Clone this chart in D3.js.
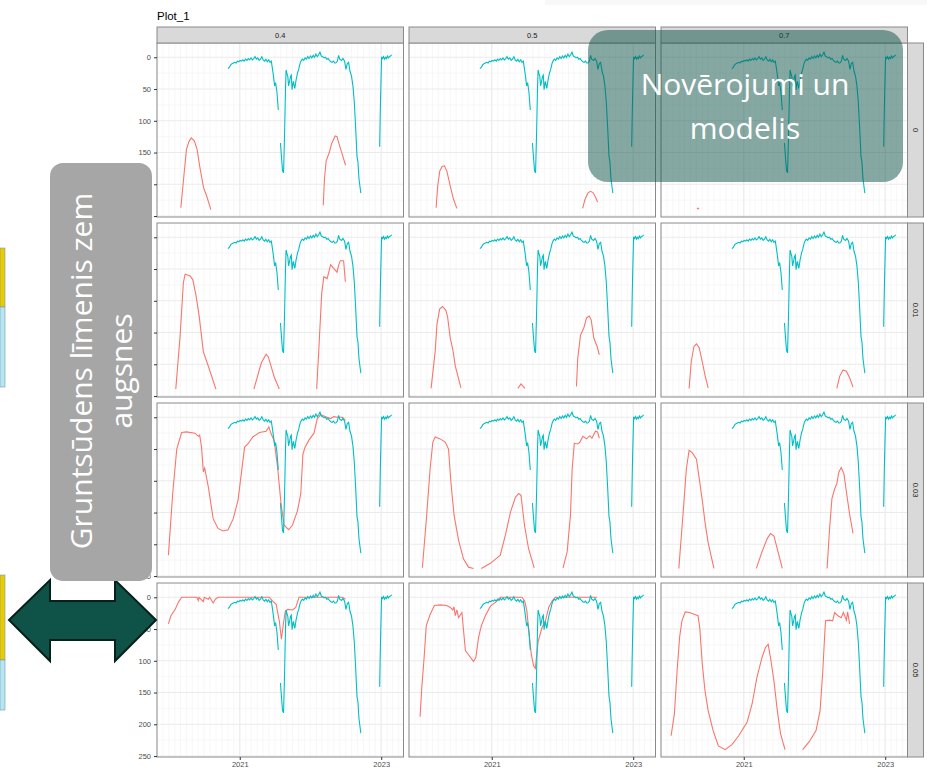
<!DOCTYPE html>
<html>
<head>
<meta charset="utf-8">
<script src="https://cdn.jsdelivr.net/npm/d3@7"></script>
<style>
  body { margin: 0; background: #ffffff; }
  svg { display: block; }
</style>
</head>
<body>
<div id="plot"></div>
<script>
// facet labels
var colLabels = ["0.4", "0.5", "0.7"]
var rowLabels = ["0", "0.01", "0.03", "0.05"]
// axis ticks
var yTicks = [0, 50, 100, 150, 200, 250]
var yMinor = [25, 75, 125, 175, 225]
var xTicks = ["2021-01-01", "2023-01-01"]
var xTickLabels = ["2021", "2023"]

// observed groundwater level (cm below surface), same in every panel
var observed = [
  ["2020-11-01",18],["2020-11-08",16],["2020-11-15",12],["2020-11-22",10],["2020-11-29",9],["2020-12-06",8],
  ["2020-12-13",9],["2020-12-20",6],["2020-12-27",7],["2021-01-03",5],["2021-01-10",6],["2021-01-17",4],
  ["2021-01-24",6],["2021-01-31",3],["2021-02-07",5],["2021-02-14",2],["2021-02-21",4],["2021-02-28",1],
  ["2021-03-07",4],["2021-03-14",2],["2021-03-21",-1],["2021-03-28",3],["2021-04-04",1],["2021-04-11",5],
  ["2021-04-18",3],["2021-04-25",-1],["2021-05-02",4],["2021-05-09",6],["2021-05-16",3],["2021-05-23",7],
  ["2021-05-30",4],["2021-06-06",8],["2021-06-13",6],["2021-06-22",25],["2021-06-30",45],["2021-07-05",40],
  ["2021-07-12",55],["2021-07-19",83],["2021-07-25",null],
  ["2021-07-30",135],["2021-08-05",160],["2021-08-10",179],["2021-08-15",182],["2021-08-20",124],["2021-08-25",51],
  ["2021-08-28",20],["2021-09-02",26],["2021-09-06",30],["2021-09-10",45],["2021-09-15",38],["2021-09-20",30],
  ["2021-09-24",28],["2021-09-28",51],["2021-10-02",42],["2021-10-05",38],["2021-10-09",45],["2021-10-12",49],
  ["2021-10-19",35],["2021-10-26",25],["2021-11-02",18],["2021-11-08",10],["2021-11-13",6],["2021-11-20",3],
  ["2021-11-27",5],["2021-12-04",1],["2021-12-11",3],["2021-12-18",-1],["2021-12-25",2],["2022-01-01",-2],
  ["2022-01-08",1],["2022-01-15",-3],["2022-01-22",0],["2022-01-29",-5],["2022-02-05",-1],["2022-02-12",-4],
  ["2022-02-19",-8],["2022-02-26",-2],["2022-03-05",-1],["2022-03-12",1],["2022-03-19",0],["2022-03-26",3],
  ["2022-04-02",2],["2022-04-09",5],["2022-04-16",7],["2022-04-23",8],["2022-04-30",6],["2022-05-06",9],
  ["2022-05-12",9],["2022-05-20",6],["2022-05-26",-3],["2022-06-01",3],["2022-06-10",5],["2022-06-18",2],
  ["2022-06-26",6],["2022-07-03",19],["2022-07-10",10],["2022-07-17",8],["2022-07-24",22],["2022-08-01",30],
  ["2022-08-08",45],["2022-08-15",70],["2022-08-22",110],["2022-08-29",156],["2022-09-03",165],["2022-09-08",190],
  ["2022-09-14",205],["2022-09-18",214],["2022-10-01",null],
  ["2022-12-24",141],["2022-12-27",90],["2022-12-29",60],["2023-01-03",-1],["2023-01-08",2],["2023-01-13",-1],
  ["2023-01-18",3],["2023-01-23",0],["2023-01-28",2],["2023-02-02",-2],["2023-02-07",1],["2023-02-12",-1],
  ["2023-02-18",-2],["2023-02-24",-4]
]

// modelled level, one array per facet (column _ row)
var model_04_0 = [
  ["2020-03-03",237],["2020-03-17",192],["2020-04-01",145],["2020-04-15",132],["2020-04-26",127],["2020-05-12",132],
  ["2020-05-26",145],["2020-06-08",171],["2020-06-28",205],["2020-07-16",220],["2020-08-05",240],["2020-08-10",null],
  ["2022-03-08",233],["2022-03-14",192],["2022-03-23",163],["2022-04-08",150],["2022-04-20",136],["2022-05-08",124],
  ["2022-05-18",125],["2022-05-28",136],["2022-06-14",153],["2022-07-01",170]
]
var model_05_0 = [
  ["2020-03-20",237],["2020-03-28",203],["2020-04-08",179],["2020-04-20",172],["2020-05-02",171],["2020-05-15",180],
  ["2020-06-01",203],["2020-06-18",224],["2020-07-05",238],["2020-07-10",null],
  ["2022-04-15",238],["2022-04-27",224],["2022-05-12",214],["2022-05-25",211],["2022-06-08",213],["2022-06-20",220],
  ["2022-07-01",228]
]
var model_07_0 = [
  ["2020-05-05",239],["2020-05-10",237.5],["2020-05-15",239]
]
var model_04_001 = [
  ["2020-02-06",239],["2020-02-28",156],["2020-03-16",72],["2020-03-25",58],["2020-04-20",61],["2020-05-04",67],
  ["2020-05-20",91],["2020-06-06",125],["2020-06-27",180],["2020-07-23",203],["2020-08-31",239],["2020-09-10",null],
  ["2021-03-15",239],["2021-04-22",198],["2021-05-17",184],["2021-05-28",188],["2021-06-28",220],["2021-07-24",239],
  ["2021-08-01",null],
  ["2022-02-02",239],["2022-02-14",171],["2022-02-28",88],["2022-03-11",62],["2022-03-28",65],["2022-04-15",43],
  ["2022-05-01",49],["2022-05-18",55],["2022-05-27",43],["2022-06-04",37],["2022-06-21",37],["2022-06-30",70]
]
var model_05_001 = [
  ["2020-02-23",238],["2020-03-15",180],["2020-03-24",138],["2020-04-07",113],["2020-04-22",109],["2020-05-09",115],
  ["2020-05-18",125],["2020-06-01",159],["2020-06-14",177],["2020-06-27",203],["2020-07-26",237],["2020-08-01",null],
  ["2021-05-16",238],["2021-06-01",231],["2021-06-21",238],["2021-06-25",null],
  ["2022-03-14",235],["2022-03-21",190],["2022-04-04",154],["2022-04-21",143],["2022-05-05",127],["2022-05-19",124],
  ["2022-05-29",130],["2022-06-12",159],["2022-06-29",172],["2022-07-10",185]
]
var model_07_001 = [
  ["2020-03-25",238],["2020-04-05",196],["2020-04-19",172],["2020-05-02",168],["2020-05-16",174],["2020-06-01",196],
  ["2020-06-15",217],["2020-07-01",237],["2020-07-05",null],
  ["2022-04-26",238],["2022-05-11",219],["2022-05-28",209],["2022-06-15",211],["2022-07-05",224],["2022-07-19",236]
]
var model_04_003 = [
  ["2019-12-30",217],["2020-01-21",120],["2020-02-11",50],["2020-03-07",24],["2020-04-01",23],["2020-05-15",25],
  ["2020-06-01",30],["2020-06-08",28],["2020-06-18",47],["2020-06-27",86],["2020-07-04",80],["2020-07-23",110],
  ["2020-08-17",160],["2020-09-11",175],["2020-10-07",179],["2020-11-02",177],["2020-11-28",160],["2020-12-23",131],
  ["2021-01-26",47],["2021-02-12",42],["2021-03-09",31],["2021-04-13",24],["2021-05-17",22],["2021-05-31",15],
  ["2021-06-12",26],["2021-06-28",37],["2021-07-15",78],["2021-08-02",136],["2021-08-18",170],["2021-09-10",177],
  ["2021-09-30",170],["2021-10-26",147],["2021-11-12",120],["2021-11-23",58],["2021-12-03",48],["2021-12-24",36],
  ["2022-01-19",25],["2022-02-05",2],["2022-02-23",-4],["2022-03-20",-1],["2022-04-15",2],["2022-05-01",-1],
  ["2022-05-20",0],["2022-06-15",0],["2022-06-30",5]
]
var model_05_003 = [
  ["2020-01-09",237],["2020-01-31",155],["2020-02-18",81],["2020-03-03",39],["2020-03-15",31],["2020-04-10",34],
  ["2020-05-06",39],["2020-05-23",50],["2020-06-04",102],["2020-06-21",155],["2020-07-14",194],["2020-08-08",223],
  ["2020-09-03",236],["2020-09-29",238],["2020-10-10",null],
  ["2020-11-08",238],["2020-12-25",230],["2021-02-14",217],["2021-03-12",186],["2021-04-08",149],["2021-05-03",126],
  ["2021-05-20",120],["2021-06-01",123],["2021-06-19",170],["2021-07-10",207],["2021-08-08",237],["2021-08-15",null],
  ["2022-01-04",237],["2022-01-25",212],["2022-02-11",155],["2022-02-20",81],["2022-03-03",41],["2022-03-21",42],
  ["2022-04-01",39],["2022-04-16",30],["2022-05-05",34],["2022-05-22",29],["2022-06-02",33],["2022-06-20",22],
  ["2022-07-01",23],["2022-07-10",33]
]
var model_07_003 = [
  ["2020-02-01",238],["2020-02-22",155],["2020-03-11",81],["2020-03-25",52],["2020-04-11",56],["2020-05-02",66],
  ["2020-05-19",102],["2020-06-02",133],["2020-06-15",165],["2020-07-01",197],["2020-07-31",238],["2020-08-05",null],
  ["2021-03-07",238],["2021-04-05",212],["2021-05-02",191],["2021-05-19",183],["2021-06-06",187],["2021-06-27",212],
  ["2021-07-19",238],["2021-07-25",null],
  ["2022-03-07",238],["2022-03-20",175],["2022-04-01",128],["2022-04-15",113],["2022-04-26",105],["2022-05-07",86],
  ["2022-05-19",79],["2022-06-02",89],["2022-06-15",118],["2022-07-01",152],["2022-07-19",183]
]
var model_04_005 = [
  ["2019-12-30",42],["2020-01-12",29],["2020-02-03",19],["2020-02-19",8],["2020-03-07",0],["2020-05-25",0],
  ["2020-06-01",5],["2020-06-05",0],["2020-06-27",7],["2020-07-02",0],["2020-07-23",3],["2020-07-30",0],
  ["2020-08-17",9],["2020-08-28",3],["2020-09-11",0],["2021-06-03",0],["2021-06-20",6],["2021-07-08",11],
  ["2021-07-24",37],["2021-08-04",66],["2021-08-14",42],["2021-08-24",22],["2021-09-05",19],["2021-09-30",20],
  ["2021-10-17",16],["2021-11-03",0],["2022-06-15",0],["2022-06-30",3]
]
var model_05_005 = [
  ["2019-12-28",188],["2020-01-06",142],["2020-01-18",95],["2020-01-29",45],["2020-02-18",27],["2020-03-11",13],
  ["2020-04-10",12],["2020-05-14",13],["2020-06-01",16],["2020-06-14",20],["2020-06-20",15],["2020-06-27",29],
  ["2020-07-05",20],["2020-07-14",32],["2020-07-31",24],["2020-08-18",84],["2020-09-07",92],["2020-09-29",101],
  ["2020-10-11",95],["2020-10-25",63],["2020-11-08",45],["2020-11-29",29],["2020-12-25",14],["2021-01-20",8],
  ["2021-02-14",0],["2021-06-06",0],["2021-06-20",6],["2021-07-01",21],["2021-07-13",58],["2021-07-24",90],
  ["2021-08-05",108],["2021-08-14",112],["2021-08-28",70],["2021-09-17",48],["2021-10-05",37],["2021-10-22",16],
  ["2021-11-08",6],["2021-11-25",0],["2022-06-28",0]
]
var model_07_005 = [
  ["2019-12-23",218],["2020-01-09",184],["2020-01-23",116],["2020-02-05",63],["2020-02-17",37],["2020-03-05",23],
  ["2020-03-28",24],["2020-04-23",27],["2020-05-10",29],["2020-05-19",48],["2020-06-01",105],["2020-06-15",147],
  ["2020-07-01",178],["2020-07-27",210],["2020-08-23",234],["2020-09-27",240],["2020-11-01",232],["2020-12-06",218],
  ["2021-01-18",197],["2021-02-13",168],["2021-03-10",126],["2021-04-05",95],["2021-04-23",79],["2021-05-07",74],
  ["2021-05-19",95],["2021-06-06",132],["2021-06-23",178],["2021-07-10",215],["2021-08-02",240],["2021-08-10",null],
  ["2021-11-01",240],["2021-12-06",227],["2022-01-09",210],["2022-01-30",178],["2022-02-13",116],["2022-02-22",63],
  ["2022-02-27",37],["2022-03-20",36],["2022-04-05",37],["2022-04-15",24],["2022-05-02",29],["2022-05-19",32],
  ["2022-05-30",24],["2022-06-15",36],["2022-06-21",23],["2022-07-01",42]
]

// facet grid: rows x columns
var models = [
  [model_04_0, model_05_0, model_07_0],
  [model_04_001, model_05_001, model_07_001],
  [model_04_003, model_05_003, model_07_003],
  [model_04_005, model_05_005, model_07_005]
]

var parse = d3.timeParse("%Y-%m-%d")

// layout
var W = 927, H = 770
var colLeft = [157, 409, 661]
var panelW = 246.5
var rowTop = [43, 223, 403, 583]
var panelH = 174
var stripH = 16
var obsColor = "#00BFC4"
var modColor = "#F8766D"

var svg = d3.select("#plot").append("svg").attr("width", W).attr("height", H)

// faint remnant at top edge
svg.append("rect").attr("x", 545).attr("y", 0).attr("width", 382).attr("height", 5).attr("fill", "#f8f8f8")

// title
svg.append("text")
  .attr("x", 157).attr("y", 20)
  .text("Plot_1")
  .attr("font-size", "11.5px")
  .attr("font-family", "'Liberation Sans', Arial, sans-serif")
  .attr("fill", "#000")

var x = d3.scaleTime().domain([parse("2019-11-01"), parse("2023-04-26")])
var months = d3.timeMonth.range(parse("2019-11-01"), parse("2023-04-26"))

var defs = svg.append("defs")

rowTop.forEach(function(top, r) {
  colLeft.forEach(function(left, c) {
    var xs = x.copy().range([left, left + panelW])
    var ys = d3.scaleLinear().domain([-22.5, 251.5]).range([top, top + panelH])
    var g = svg.append("g")
    var clipId = "clip" + r + "_" + c
    defs.append("clipPath").attr("id", clipId)
      .append("rect").attr("x", left).attr("y", top).attr("width", panelW).attr("height", panelH)

    g.append("rect").attr("x", left).attr("y", top).attr("width", panelW).attr("height", panelH).attr("fill", "#fff")

    // grid
    g.selectAll(".vmin").data(months).enter().append("line")
      .attr("x1", function(d) { return xs(d) }).attr("x2", function(d) { return xs(d) })
      .attr("y1", top).attr("y2", top + panelH)
      .attr("stroke", "#f1f1f1").attr("stroke-width", 0.6)
    g.selectAll(".hmin").data(yMinor).enter().append("line")
      .attr("x1", left).attr("x2", left + panelW)
      .attr("y1", function(d) { return ys(d) }).attr("y2", function(d) { return ys(d) })
      .attr("stroke", "#f3f3f3").attr("stroke-width", 0.6)
    g.selectAll(".hmaj").data(yTicks).enter().append("line")
      .attr("x1", left).attr("x2", left + panelW)
      .attr("y1", function(d) { return ys(d) }).attr("y2", function(d) { return ys(d) })
      .attr("stroke", "#ebebeb").attr("stroke-width", 1.1)
    g.selectAll(".vmaj").data(xTicks).enter().append("line")
      .attr("x1", function(d) { return xs(parse(d)) }).attr("x2", function(d) { return xs(parse(d)) })
      .attr("y1", top).attr("y2", top + panelH)
      .attr("stroke", "#ebebeb").attr("stroke-width", 1.1)

    var line = d3.line()
      .defined(function(d) { return d[1] != null })
      .x(function(d) { return xs(parse(d[0])) })
      .y(function(d) { return ys(d[1]) })

    var lines = g.append("g").attr("clip-path", "url(#" + clipId + ")")
    lines.append("path").datum(models[r][c]).attr("d", line)
      .attr("fill", "none").attr("stroke", modColor).attr("stroke-width", 1.1)
    lines.append("path").datum(observed).attr("d", line)
      .attr("fill", "none").attr("stroke", obsColor).attr("stroke-width", 1.1)

    g.append("rect").attr("x", left).attr("y", top).attr("width", panelW).attr("height", panelH)
      .attr("fill", "none").attr("stroke", "#8a8a8a").attr("stroke-width", 1)

    // y axis on first column
    if (c == 0) {
      var ya = g.append("g").attr("transform", "translate(" + left + ",0)")
        .call(d3.axisLeft(ys).tickValues(yTicks).tickSize(3).tickPadding(3))
      ya.select(".domain").remove()
      ya.selectAll("line").attr("stroke", "#333")
      ya.selectAll("text").attr("fill", "#4d4d4d").attr("font-size", "7.5px")
        .attr("font-family", "'Liberation Sans', Arial, sans-serif")
    }
    // x axis on bottom row
    if (r == rowTop.length - 1) {
      var xa = g.append("g").attr("transform", "translate(0," + (top + panelH) + ")")
        .call(d3.axisBottom(xs).tickValues(xTicks.map(parse))
          .tickFormat(function(d, i) { return xTickLabels[i] }).tickSize(3).tickPadding(2))
      xa.select(".domain").remove()
      xa.selectAll("line").attr("stroke", "#333")
      xa.selectAll("text").attr("fill", "#4d4d4d").attr("font-size", "7.5px")
        .attr("font-family", "'Liberation Sans', Arial, sans-serif")
    }
  })
})

// top strips
colLabels.forEach(function(lab, c) {
  svg.append("rect").attr("x", colLeft[c]).attr("y", rowTop[0] - stripH)
    .attr("width", panelW).attr("height", stripH)
    .attr("fill", "#d9d9d9").attr("stroke", "#8a8a8a").attr("stroke-width", 1)
  svg.append("text").attr("x", colLeft[c] + panelW / 2).attr("y", rowTop[0] - stripH / 2)
    .attr("text-anchor", "middle").attr("dominant-baseline", "central")
    .text(lab).attr("font-size", "7.5px").attr("fill", "#1a1a1a")
    .attr("font-family", "'Liberation Sans', Arial, sans-serif")
})

// right strips
var stripX = colLeft[2] + panelW
rowLabels.forEach(function(lab, r) {
  svg.append("rect").attr("x", stripX).attr("y", rowTop[r])
    .attr("width", stripH).attr("height", panelH)
    .attr("fill", "#d9d9d9").attr("stroke", "#8a8a8a").attr("stroke-width", 1)
  svg.append("text")
    .attr("transform", "translate(" + (stripX + stripH / 2) + "," + (rowTop[r] + panelH / 2) + ") rotate(90)")
    .attr("text-anchor", "middle").attr("dominant-baseline", "central")
    .text(lab).attr("font-size", "7.5px").attr("fill", "#1a1a1a")
    .attr("font-family", "'Liberation Sans', Arial, sans-serif")
})

// left edge slide remnants
var edge = [[248, 307, "#e8cc00"], [307, 387, "#b5e6f2"], [575, 660, "#e8cc00"], [660, 710, "#b5e6f2"]]
edge.forEach(function(e) {
  svg.append("rect").attr("x", 0).attr("y", e[0]).attr("width", 5).attr("height", e[1] - e[0])
    .attr("fill", e[2]).attr("stroke", "#7d95b5").attr("stroke-width", 0.6)
})

// double arrow
svg.append("polygon")
  .attr("points", "9,620 50,580 50,601 115,601 115,580 156,620 115,661 115,640 50,640 50,661")
  .attr("fill", "#0f5247").attr("stroke", "#06201b").attr("stroke-width", 2)

// grey label box
svg.append("rect").attr("x", 50).attr("y", 163).attr("width", 102).attr("height", 418)
  .attr("rx", 13).attr("fill", "#a6a6a6")
var gl = svg.append("g").attr("transform", "translate(101,371) rotate(-90)")
gl.append("text").attr("x", 0).attr("y", -9).attr("text-anchor", "middle")
  .text("Gruntsūdens līmenis zem")
  .attr("font-size", "30px").attr("fill", "#fff").attr("font-family", "'Open Sans', sans-serif")
gl.append("text").attr("x", 0).attr("y", 31).attr("text-anchor", "middle")
  .text("augsnes")
  .attr("font-size", "30px").attr("fill", "#fff").attr("font-family", "'Open Sans', sans-serif")

// teal label box
svg.append("rect").attr("x", 588).attr("y", 30).attr("width", 315).attr("height", 152)
  .attr("rx", 20).attr("fill", "#0e5246").attr("fill-opacity", 0.5)
svg.append("text").attr("x", 745).attr("y", 95).attr("text-anchor", "middle")
  .text("Novērojumi un")
  .attr("font-size", "30px").attr("fill", "#fff").attr("font-family", "'Open Sans', sans-serif")
svg.append("text").attr("x", 745).attr("y", 139).attr("text-anchor", "middle")
  .text("modelis")
  .attr("font-size", "30px").attr("fill", "#fff").attr("font-family", "'Open Sans', sans-serif")
</script>
</body>
</html>
